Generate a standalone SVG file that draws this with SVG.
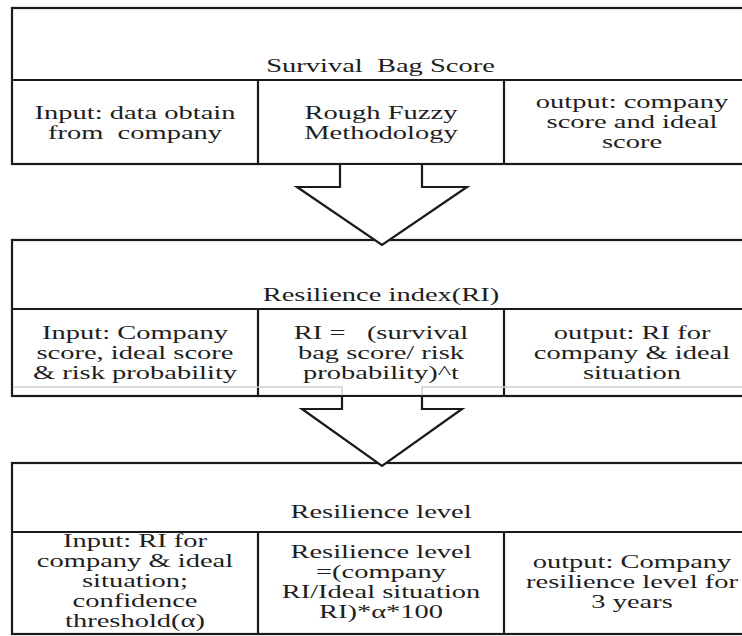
<svg xmlns="http://www.w3.org/2000/svg" width="742" height="636" viewBox="0 0 742 636">
<style>
.box{fill:#fff;stroke:#1a1a1a;stroke-width:2.2}
.ln{stroke:#1a1a1a;stroke-width:2.2;fill:none}
.arrow{fill:#fff;stroke:#1a1a1a;stroke-width:2.2;stroke-linejoin:miter}
.faint{fill:none;stroke:#cfcfcf;stroke-width:1.5}
.t{font-family:'Liberation Serif','DejaVu Serif',serif;font-size:19px;fill:#1e1e1e;text-anchor:middle}
</style>
<rect width="742" height="636" fill="#fff"/>

<g id="box1">
<rect class="box" x="12" y="8" width="760" height="156"/>
<line class="ln" x1="12" y1="80" x2="760" y2="80"/>
<line class="ln" x1="258" y1="80" x2="258" y2="164"/>
<line class="ln" x1="504" y1="80" x2="504" y2="164"/>
<g class="t" transform="matrix(1.5 0 0 1 380.5 0)"><text x="0" y="72" xml:space="preserve">Survival  Bag Score</text></g>
<g class="t" transform="matrix(1.5 0 0 1 135 0)"><text x="0" y="119">Input: data obtain</text><text x="0" y="139" xml:space="preserve">from  company</text></g>
<g class="t" transform="matrix(1.5 0 0 1 381 0)"><text x="0" y="119">Rough Fuzzy</text><text x="0" y="139">Methodology</text></g>
<g class="t" transform="matrix(1.5 0 0 1 632 0)"><text x="0" y="108">output: company</text><text x="0" y="128">score and ideal</text><text x="0" y="148">score</text></g>
</g>

<g id="box2">
<rect class="box" x="12" y="240" width="760" height="156"/>
<line class="ln" x1="12" y1="309" x2="760" y2="309"/>
<line class="ln" x1="258" y1="309" x2="258" y2="396"/>
<line class="ln" x1="504" y1="309" x2="504" y2="396"/>
<g class="t" transform="matrix(1.5 0 0 1 381 0)"><text x="0" y="301">Resilience index(RI)</text></g>
<g class="t" transform="matrix(1.5 0 0 1 135 0)"><text x="0" y="339">Input: Company</text><text x="0" y="359">score, ideal score</text><text x="0" y="379">&amp; risk probability</text></g>
<g class="t" transform="matrix(1.5 0 0 1 381 0)"><text x="0" y="339" xml:space="preserve">RI =   (survival</text><text x="0" y="359">bag score/ risk</text><text x="0" y="379">probability)^t</text></g>
<g class="t" transform="matrix(1.5 0 0 1 632 0)"><text x="0" y="339">output: RI for</text><text x="0" y="359">company &amp; ideal</text><text x="0" y="379">situation</text></g>
<polyline class="faint" points="13,387 342,387 342,395"/>
<polyline class="faint" points="422,395 422,387 760,387"/>
</g>

<g id="box3">
<rect class="box" x="12" y="463" width="760" height="171"/>
<line class="ln" x1="12" y1="532" x2="760" y2="532"/>
<line class="ln" x1="258" y1="532" x2="258" y2="634"/>
<line class="ln" x1="504" y1="532" x2="504" y2="634"/>
<g class="t" transform="matrix(1.5 0 0 1 381 0)"><text x="0" y="518">Resilience level</text></g>
<g class="t" transform="matrix(1.5 0 0 1 135 0)"><text x="0" y="547">Input: RI for</text><text x="0" y="567">company &amp; ideal</text><text x="0" y="587">situation;</text><text x="0" y="607">confidence</text><text x="0" y="627">threshold(α)</text></g>
<g class="t" transform="matrix(1.5 0 0 1 381 0)"><text x="0" y="558">Resilience level</text><text x="0" y="578">=(company</text><text x="0" y="598">RI/Ideal situation</text><text x="0" y="618">RI)*α*100</text></g>
<g class="t" transform="matrix(1.5 0 0 1 632 0)"><text x="0" y="568">output: Company</text><text x="0" y="588">resilience level for</text><text x="0" y="608">3 years</text></g>
</g>

<g id="connectors">
<polyline class="arrow" points="340,165 340,187 297,187 382,245 467,187 422,187 422,165"/>
<polyline class="arrow" points="342,397 342,409 302,409 382,466 462,409 422,409 422,397"/>
</g>
</svg>
